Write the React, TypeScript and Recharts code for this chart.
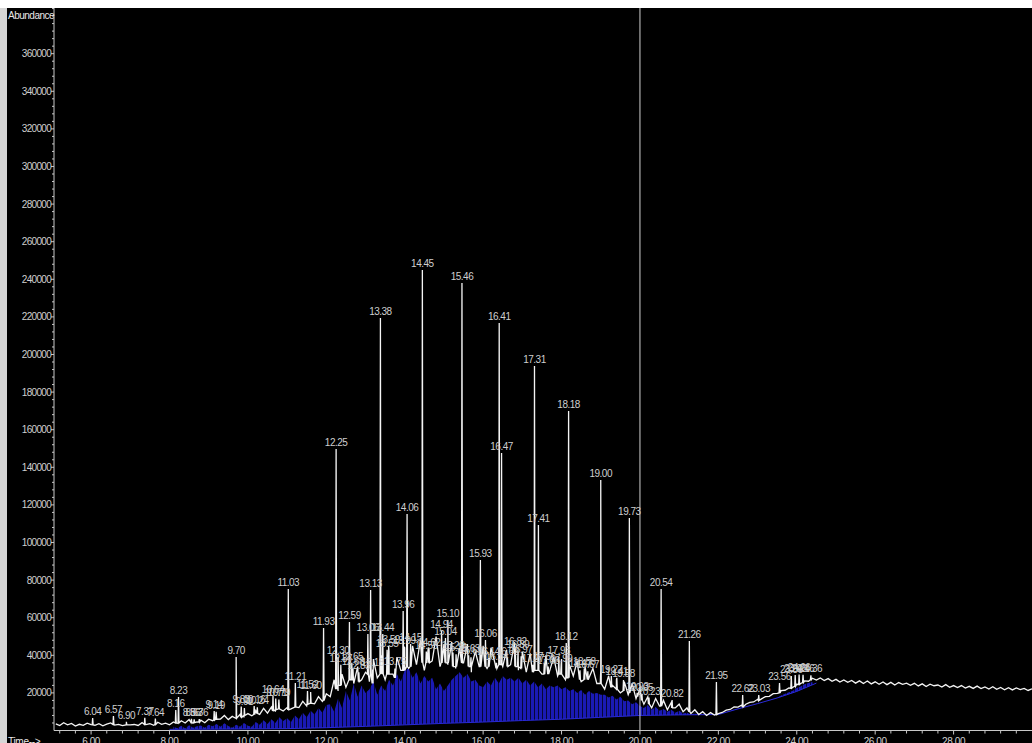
import React from "react";
import {
  ComposedChart,
  Line,
  Area,
  XAxis,
  YAxis,
  ReferenceLine,
  LabelList,
} from "recharts";

// TIC trace, thousands of counts, sampled every 0.1 min from 5.1 min
const TRACE_START = 5.1;
const TRACE_STEP = 0.1;
const traceK = [
  3.5, 2.6, 4.1, 3.0, 3.8, 2.4, 3.3, 2.7, 3.9, 3.1,
  2.8, 3.6, 2.5, 3.4, 4.0, 2.9, 3.3, 2.6, 3.7, 3.0,
  3.2, 2.7, 4.2, 3.1, 3.6, 2.8, 4.4, 3.3, 3.9, 3.0,
  4.5, 3.8, 5.2, 4.0, 5.8, 3.9, 4.6, 5.5, 4.1, 6.0,
  5.2, 7.0, 6.1, 8.0, 5.8, 7.5, 6.4, 8.6, 6.9, 9.0,
  7.8, 10.5, 8.6, 11.8, 9.2, 12.5, 10.0, 13.0, 10.4, 12.2,
  11.5, 14.0, 12.2, 15.5, 13.0, 16.8, 14.2, 18.0, 15.5, 19.5,
  18, 27, 21, 30, 23, 33, 25, 34, 27, 31,
  26, 38, 28, 40, 27, 42, 30, 39, 32, 44,
  33, 45, 35, 48, 32, 44, 37, 50, 34, 46,
  35, 47, 33, 44, 36, 46, 31, 42, 34, 45,
  33, 44, 36, 46, 34, 43, 35, 47, 32, 42,
  31, 41, 33, 43, 30, 40, 32, 39, 29, 38,
  27, 35, 29, 37, 26, 34, 28, 33, 25, 32,
  22, 29, 24, 27, 20, 26, 19, 25, 17, 23,
  14, 18, 12, 17, 13, 16, 11, 15, 12, 14,
  10, 12, 9, 11, 8.5, 10, 8, 9.5, 8.2, 9.0,
  9.6, 10.8, 11.2, 12.5, 12.4, 13.6, 14.0, 15.0, 15.2, 16.6,
  16.8, 18.0, 18.2, 19.6, 19.8, 21.2, 21.4, 22.6, 23.0, 24.6,
  25.0, 26.4, 26.2, 27.8, 26.8, 27.9, 26.6, 27.6, 26.2, 27.2,
  25.8, 26.9, 25.6, 26.6, 25.2, 26.4, 25.0, 26.3, 24.8, 25.9,
  24.6, 25.8, 24.4, 25.6, 24.2, 25.5, 24.6, 25.2, 24.0, 25.1,
  23.7, 24.8, 23.4, 24.6, 23.8, 24.2, 23.1, 24.4, 23.0, 23.9,
  22.8, 23.9, 22.6, 23.5, 22.4, 23.6, 22.3, 23.2, 22.1, 23.3,
  21.9, 22.9, 21.7, 22.8, 21.6, 22.6, 21.8, 22.4, 21.3, 22.2,
];

// top of the integrated (blue) region, same sampling, from 8.1 min
const BLUE_START = 8.1;
const blueTopK = [
  2.0, 1.2, 2.5, 1.0, 2.8, 1.4, 2.2, 2.6, 1.5, 3.0,
  2.2, 3.5, 2.0, 3.8, 2.4, 1.5, 3.0, 2.0, 4.0, 2.5,
  2.0, 4.5, 3.0, 5.5, 3.5, 6.0, 4.0, 7.0, 5.0, 6.5,
  4.5, 8.0, 6.0, 9.5, 7.0, 10.5, 8.5, 12.0, 9.5, 13.5,
  14, 10, 17, 12, 21, 16, 25, 18, 24, 20,
  22, 26, 19, 24, 21, 27, 24, 30, 26, 32,
  33, 28, 31, 25, 29, 26, 28, 22, 25, 21,
  24, 27, 29, 31, 28, 30, 26, 27, 24, 23,
  26, 24, 28, 25, 29, 27, 28, 26, 28, 25,
  27, 24, 26, 23, 25, 22, 24, 23, 24, 22,
  23, 21, 22, 20, 21.5, 19, 21, 19.5, 20, 19,
  19, 17.5, 18.5, 16.5, 18, 15.5, 16, 14, 15, 13,
  12, 13.5, 11, 12.5, 10.5, 11.5, 10, 11, 9.5, 10.5,
  9.0, 9.5, 8.5, 9.0, 8.2, 8.6, 7.8, 8.4, 7.9, 8.4,
  9.2, 10.0, 10.4, 11.2, 11.6, 12.4, 12.6, 13.4, 13.6, 14.4,
  14.6, 15.4, 15.8, 16.8, 17.4, 18.6, 19.6, 20.4, 21.2, 22.6,
  23.4, 24.6, 25.2, 25.8,
];

// integration baseline [min, thousands]
const baselineK = [
  [8.0, 0.6], [9.6, 0.8], [11.0, 1.0], [12.0, 1.5], [13.0, 2.2],
  [14.0, 3.0], [15.0, 3.8], [16.0, 4.5], [17.0, 5.3], [18.0, 6.0],
  [19.0, 7.0], [20.0, 8.0], [21.0, 8.3], [22.0, 8.5], [22.5, 11.5],
  [23.0, 14.3], [23.5, 17.3], [24.0, 20.8], [24.5, 25.2],
];

// labelled peaks: [retention time, apex (k), foot (k)]
const peaks = [
  [6.04, 6.6, 3.0], [6.57, 7.7, 3.2], [6.90, 4.6, 3.0], [7.37, 6.8, 3.2],
  [7.64, 6.3, 3.2], [8.16, 10.9, 4.0], [8.23, 17.8, 4.0], [8.56, 6.2, 4.2],
  [8.63, 5.9, 4.2], [8.76, 6.0, 4.5], [9.14, 10.4, 5.5], [9.19, 10.0, 6.0],
  [9.70, 39.1, 6.5], [9.83, 12.8, 7.0], [9.91, 12.0, 8.0], [10.16, 13.0, 8.5],
  [10.24, 12.4, 9.0], [10.64, 18.3, 10.5], [10.71, 17.0, 11.0], [10.79, 16.5, 11.5],
  [11.03, 75.3, 11.0], [11.21, 25.3, 12.5], [11.52, 21.0, 14.0], [11.60, 20.5, 14.5],
  [11.93, 54.5, 16.0], [12.25, 149.7, 22], [12.30, 39.1, 24], [12.37, 35.0, 24],
  [12.59, 57.7, 27], [12.65, 36.0, 27], [12.68, 33.0, 27], [12.83, 31.0, 26],
  [13.06, 51.3, 30], [13.13, 74.7, 30], [13.18, 32.5, 25], [13.38, 219.4, 30],
  [13.44, 51.3, 30], [13.55, 43.0, 30], [13.59, 45.0, 30], [13.75, 33.0, 28],
  [13.96, 63.6, 32], [13.99, 44.5, 32], [14.06, 115.2, 34], [14.15, 46.0, 34],
  [14.45, 244.9, 36], [14.55, 42.0, 36], [14.62, 43.5, 36], [14.94, 52.9, 36],
  [15.04, 49.2, 36], [15.10, 58.8, 36], [15.23, 41.5, 34], [15.31, 40.5, 34],
  [15.46, 238.0, 36], [15.63, 40.0, 34], [15.69, 39.0, 34], [15.93, 90.7, 34],
  [16.06, 48.1, 34], [16.14, 38.6, 34], [16.34, 36.0, 33], [16.41, 216.8, 35],
  [16.47, 147.6, 35], [16.62, 38.5, 34], [16.82, 43.9, 34], [16.89, 42.5, 34],
  [16.97, 39.5, 33], [17.27, 35.0, 31], [17.31, 193.9, 32], [17.41, 109.3, 32],
  [17.56, 36.0, 30], [17.66, 34.0, 30], [17.93, 39.1, 30], [17.99, 35.0, 30],
  [18.12, 46.5, 28], [18.18, 170.0, 28], [18.47, 32.0, 27], [18.58, 33.0, 27],
  [18.67, 31.5, 27], [19.00, 133.2, 25], [19.27, 29.0, 23], [19.41, 28.0, 22],
  [19.58, 26.9, 21], [19.73, 113.0, 20], [19.93, 20.0, 18], [20.05, 19.5, 16],
  [20.23, 17.5, 14], [20.54, 75.3, 13], [20.82, 16.2, 12], [21.26, 47.6, 10],
  [21.95, 25.8, 8.5], [22.62, 18.9, 12.5], [23.03, 18.9, 16], [23.56, 25.3, 20],
  [23.86, 29.0, 22.5], [23.96, 29.5, 23.5], [24.06, 29.8, 24.5], [24.16, 29.6, 25.5],
  [24.36, 29.4, 27],
];

const CURSOR_TIME = 20.0;
const xMajorTicks = [6, 8, 10, 12, 14, 16, 18, 20, 22, 24, 26, 28];
const yMajorTicks = [
  20000, 40000, 60000, 80000, 100000, 120000, 140000, 160000, 180000,
  200000, 220000, 240000, 260000, 280000, 300000, 320000, 340000, 360000,
];

const r2 = (v: number) => Math.round(v * 1000) / 1000;

// minor ticks every 0.4 min / 4000 counts
const xTicks = Array.from({ length: 62 }, (_, i) => r2(5.2 + 0.4 * i));
const yTicks = Array.from({ length: 96 }, (_, i) => 4000 * (i + 1));

const buildRows = () => {
  const rows: any[] = traceK.map((v, i) => ({
    t: r2(TRACE_START + i * TRACE_STEP),
    sig: v * 1000,
  }));
  const off = Math.round((BLUE_START - TRACE_START) / TRACE_STEP);
  blueTopK.forEach((v, i) => {
    rows[off + i].blue = v * 1000;
  });
  baselineK.forEach(([t, v]) => {
    const idx = Math.round((t - TRACE_START) / TRACE_STEP);
    rows[idx].base = v * 1000;
  });
  peaks.forEach(([t, h, foot]) => {
    rows.push({ t: r2(t - 0.012), sig: foot * 1000 });
    rows.push({ t, sig: h * 1000, label: t.toFixed(2) });
    rows.push({ t: r2(t + 0.012), sig: foot * 1000 });
  });
  rows.sort((a, b) => a.t - b.t);
  return rows;
};

const rows = buildRows();

const FONT = "'Liberation Sans', Arial, sans-serif";
const TEXT = "#cfcfcf";

const XTick = (props: any) => {
  const { x, y, payload } = props;
  const v = payload.value;
  const major = xMajorTicks.some((m) => Math.abs(m - v) < 1e-6);
  return (
    <g>
      <line x1={x} x2={x} y1={y} y2={y + (major ? 4 : 3)} stroke="#c8c8c8" />
      {major && (
        <text
          x={x}
          y={y + 14}
          textAnchor="middle"
          fill={TEXT}
          fontSize={10}
          fontFamily={FONT}
          letterSpacing={-0.4}
        >
          {v.toFixed(2)}
        </text>
      )}
    </g>
  );
};

const YTick = (props: any) => {
  const { x, y, payload } = props;
  const v = payload.value;
  const major = yMajorTicks.includes(v);
  return (
    <g>
      <line x1={x - (major ? 3 : 2)} x2={x} y1={y} y2={y} stroke="#c8c8c8" />
      {major && (
        <text
          x={x - 3}
          y={y + 3.5}
          textAnchor="end"
          fill={TEXT}
          fontSize={10}
          fontFamily={FONT}
          letterSpacing={-0.7}
        >
          {v}
        </text>
      )}
    </g>
  );
};

const PeakLabel = (props: any) => {
  const { x, y, value } = props;
  if (!value) return null;
  return (
    <text
      x={x}
      y={y - 3}
      textAnchor="middle"
      fill={TEXT}
      fontSize={10}
      fontFamily={FONT}
      letterSpacing={-0.5}
    >
      {value}
    </text>
  );
};

export default function App() {
  return (
    <div
      style={{
        position: "absolute",
        left: 0,
        top: 0,
        width: 1032,
        height: 743,
        background: "#ffffff",
        overflow: "hidden",
      }}
    >
      <div
        style={{
          position: "absolute",
          left: 0,
          top: 8,
          width: 7,
          height: 735,
          background: "#d6d6d6",
        }}
      />
      <div
        style={{
          position: "absolute",
          left: 7,
          top: 8,
          width: 1025,
          height: 735,
          background: "#000000",
        }}
      >
        <ComposedChart
          width={1025}
          height={735}
          data={rows}
          margin={{ top: 0, right: 0, bottom: 0, left: 0 }}
        >
          <defs>
            <pattern
              id="blueStripes"
              width="4"
              height="8"
              patternUnits="userSpaceOnUse"
            >
              <rect x="0" y="0" width="3.3" height="8" fill="#1a1ab4" />
              <rect x="3.3" y="0" width="0.7" height="8" fill="#06063a" />
            </pattern>
          </defs>
          <XAxis
            dataKey="t"
            type="number"
            domain={[5.054, 30]}
            allowDataOverflow
            ticks={xTicks}
            interval={0}
            tickLine={false}
            tickSize={0}
            tickMargin={0}
            height={12.5}
            axisLine={{ stroke: "#c8c8c8" }}
            tick={XTick}
          />
          <YAxis
            type="number"
            domain={[0, 384300]}
            allowDataOverflow
            ticks={yTicks}
            interval={0}
            width={47}
            tickLine={false}
            tickSize={0}
            tickMargin={0}
            axisLine={{ stroke: "#c8c8c8" }}
            tick={YTick}
          />
          <Area
            type="linear"
            dataKey="blue"
            fill="url(#blueStripes)"
            fillOpacity={1}
            stroke="none"
            connectNulls
            isAnimationActive={false}
          />
          <Area
            type="linear"
            dataKey="base"
            fill="#000000"
            fillOpacity={1}
            stroke="#2a2ad6"
            strokeWidth={1}
            connectNulls
            isAnimationActive={false}
          />
          <ReferenceLine x={CURSOR_TIME} stroke="#d0d0d0" strokeWidth={1} />
          <Line
            type="linear"
            dataKey="sig"
            stroke="#f4f4f4"
            strokeWidth={1.3}
            dot={false}
            connectNulls
            isAnimationActive={false}
          >
            <LabelList dataKey="label" content={PeakLabel} />
          </Line>
        </ComposedChart>
        <div
          style={{
            position: "absolute",
            left: 1,
            top: 2,
            fontFamily: FONT,
            fontSize: 10,
            lineHeight: "11px",
            letterSpacing: -0.5,
            color: "#e8e8e8",
          }}
        >
          Abundance
        </div>
        <div
          style={{
            position: "absolute",
            left: 1,
            top: 728,
            fontFamily: FONT,
            fontSize: 10,
            lineHeight: "11px",
            letterSpacing: -0.3,
            color: "#e8e8e8",
          }}
        >
          Time--&gt;
        </div>
      </div>
    </div>
  );
}
